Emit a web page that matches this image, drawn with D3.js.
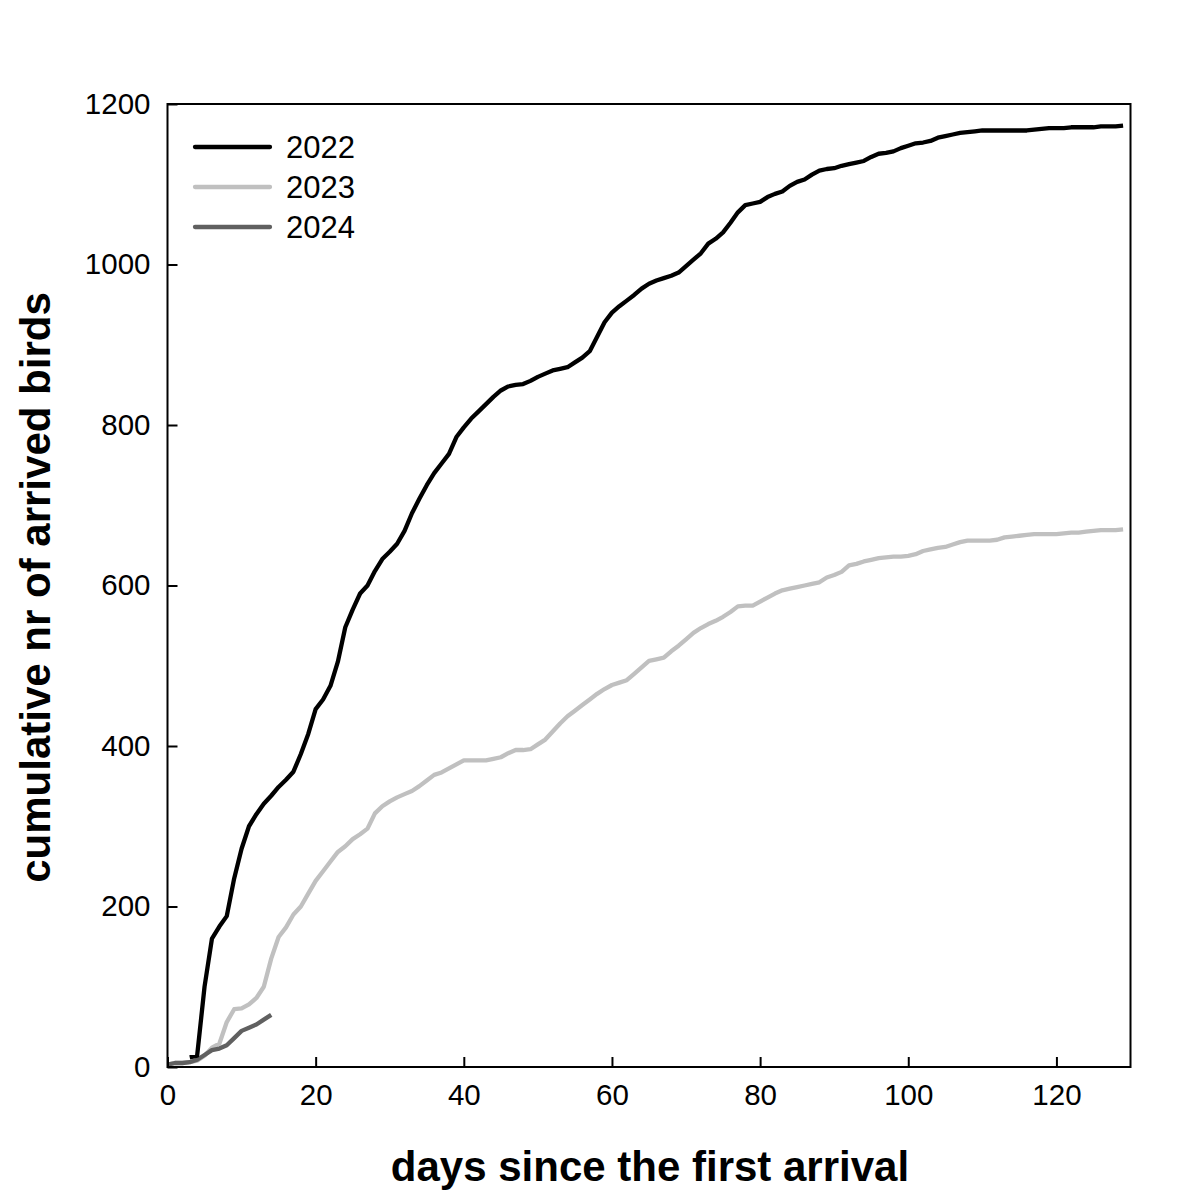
<!DOCTYPE html>
<html>
<head>
<meta charset="utf-8">
<script src="https://cdn.jsdelivr.net/npm/d3@7"></script>
<style>
  html, body { margin: 0; padding: 0; background: #fff; }
  svg text { font-family: "Liberation Sans", Arial, sans-serif; }
</style>
</head>
<body>
<svg id="chart" width="1187" height="1200"></svg>
<script>
// ---- data ----
const days2022 = d3.range(3, 130);
const values2022 = [12,14,100,160,175,188,235,272,300,315,328,338,349,358,368,390,415,446,458,475,
  505,548,570,590,600,618,633,642,652,668,690,708,725,740,752,764,785,797,808,817,
  826,835,843,848,850,851,855,860,864,868,870,872,878,884,892,910,928,940,948,955,
  962,970,976,980,983,986,990,998,1006,1014,1026,1032,1040,1052,1065,1074,1076,1078,1084,1088,
  1091,1098,1103,1106,1112,1117,1119,1120,1123,1125,1127,1129,1134,1138,1139,1141,1145,1148,1151,1152,
  1154,1158,1160,1162,1164,1165,1166,1167,1167,1167,1167,1167,1167,1167,1168,1169,1170,1170,1170,1171,
  1171,1171,1171,1172,1172,1172,1173];

const days2023 = d3.range(0, 130);
const values2023 = [3,5,5,6,8,14,24,29,56,72,73,78,86,100,135,162,174,190,200,216,
  232,244,256,268,275,284,290,297,316,325,331,336,340,344,350,357,364,367,372,377,
  382,382,382,382,384,386,391,395,395,396,402,408,418,428,437,444,451,458,465,471,
  476,479,482,490,498,506,508,510,518,525,533,541,547,552,556,561,567,574,575,575,
  580,585,590,594,596,598,600,602,604,610,613,617,625,627,630,632,634,635,636,636,
  637,639,643,645,647,648,651,654,656,656,656,656,657,660,661,662,663,664,664,664,
  664,665,666,666,667,668,669,669,669,670];

const days2024 = d3.range(0, 15);
const values2024 = [3,5,5,6,9,15,21,23,27,36,45,49,53,59,65];

const seriesNames = ["2022", "2023", "2024"];
const seriesColors = ["#000000", "#c0c0c0", "#606060"];

const xTicks = [0, 20, 40, 60, 80, 100, 120];
const yTicks = [0, 200, 400, 600, 800, 1000, 1200];
const xTitle = "days since the first arrival";
const yTitle = "cumulative nr of arrived birds";

// ---- layout ----
const svg = d3.select("#chart");
const pLeft = 167.5, pRight = 1130.5, pTop = 104, pBottom = 1067;

const x = d3.scaleLinear().domain([0, 130]).range([pLeft, pRight]);
const y = d3.scaleLinear().domain([0, 1200]).range([pBottom, pTop]);

const series = [
  { name: seriesNames[0], color: seriesColors[0], pts: days2022.map((d, i) => [d, values2022[i]]) },
  { name: seriesNames[1], color: seriesColors[1], pts: days2023.map((d, i) => [d, values2023[i]]) },
  { name: seriesNames[2], color: seriesColors[2], pts: days2024.map((d, i) => [d, values2024[i]]) }
];

const line = d3.line().x(d => x(d[0])).y(d => y(d[1]));

// draw lines (2023 first, then 2024, then 2022 on top)
[1, 2, 0].forEach(i => {
  svg.append("path")
    .datum(series[i].pts)
    .attr("fill", "none")
    .attr("stroke", series[i].color)
    .attr("stroke-width", 4.3)
    .attr("stroke-linejoin", "round")
    .attr("stroke-linecap", "butt")
    .attr("d", line);
});

// frame
svg.append("rect")
  .attr("x", pLeft).attr("y", pTop)
  .attr("width", pRight - pLeft).attr("height", pBottom - pTop)
  .attr("fill", "none").attr("stroke", "#000").attr("stroke-width", 2);

// axes
const fmt = d3.format("d");
const xAxis = d3.axisBottom(x).tickValues(xTicks).tickFormat(fmt).tickSizeInner(-10).tickSizeOuter(0).tickPadding(17);
const yAxis = d3.axisLeft(y).tickValues(yTicks).tickFormat(fmt).tickSizeInner(-10).tickSizeOuter(0).tickPadding(17);

const gx = svg.append("g").attr("transform", `translate(0,${pBottom})`).call(xAxis);
const gy = svg.append("g").attr("transform", `translate(${pLeft},0)`).call(yAxis);
[gx, gy].forEach(g => {
  g.select(".domain").remove();
  g.selectAll(".tick line").attr("stroke", "#000").attr("stroke-width", 2);
  g.selectAll(".tick text").attr("fill", "#000").style("font-size", "29.5px")
    .style("font-family", '"Liberation Sans", Arial, sans-serif');
});

// axis titles
svg.append("text")
  .attr("x", (pLeft + pRight) / 2 + 1).attr("y", 1181)
  .attr("text-anchor", "middle")
  .style("font-size", "42px").style("font-weight", "bold")
  .text(xTitle);

svg.append("text")
  .attr("transform", `translate(50,${(pTop + pBottom) / 2 + 2}) rotate(-90)`)
  .attr("text-anchor", "middle")
  .style("font-size", "42px").style("font-weight", "bold")
  .text(yTitle);

// legend
const legendY = [147, 187, 227];
series.forEach((s, i) => {
  svg.append("line")
    .attr("x1", 195).attr("x2", 270)
    .attr("y1", legendY[i]).attr("y2", legendY[i])
    .attr("stroke", s.color).attr("stroke-width", 4.3).attr("stroke-linecap", "round");
  svg.append("text")
    .attr("x", 286).attr("y", legendY[i])
    .attr("dy", "0.36em")
    .style("font-size", "31px")
    .text(s.name);
});
</script>
</body>
</html>
